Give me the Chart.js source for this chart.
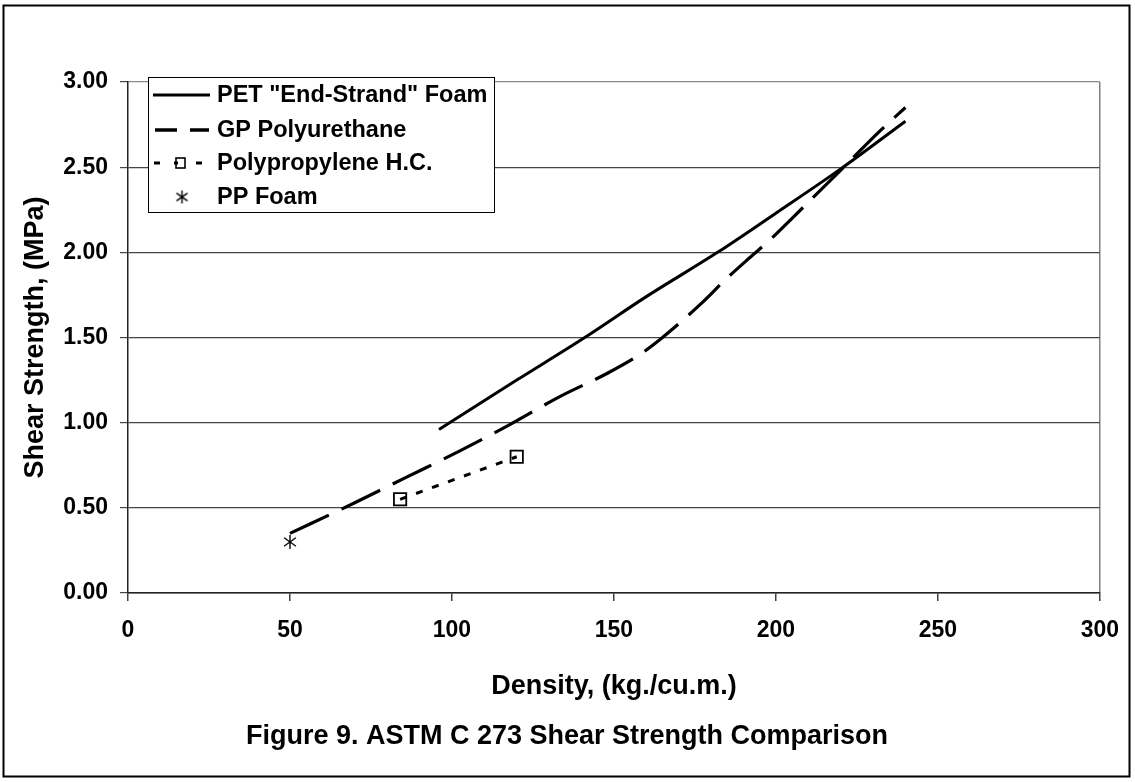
<!DOCTYPE html>
<html lang="en">
<head>
  <meta charset="UTF-8" />
  <title>Shear Strength Comparison</title>
  <script src="https://cdn.jsdelivr.net/npm/chart.js"></script>
  <style>
    html, body { margin: 0; padding: 0; background: #fff; }
    canvas { display: block; }
  </style>
</head>
<body>

  <canvas id="shearChart" width="1135" height="782"></canvas>

  <script>
    // values
    const petDensity   = [96, 120, 141, 160, 182, 200, 220, 240];
    const petStrength  = [0.96, 1.25, 1.50, 1.74, 2.00, 2.23, 2.49, 2.77];
    const gpDensity    = [50, 70, 86, 102, 118, 133, 148, 158, 165, 177, 185, 192, 198, 205, 222, 232, 240];
    const gpStrength   = [0.35, 0.53, 0.68, 0.83, 0.99, 1.15, 1.29, 1.40, 1.50, 1.70, 1.85, 1.97, 2.07, 2.20, 2.52, 2.71, 2.85];
    const hcDensity    = [84, 120];
    const hcStrength   = [0.55, 0.80];
    const foamDensity  = [50];
    const foamStrength = [0.30];
    const xTicks = [0, 50, 100, 150, 200, 250, 300];
    const yTicks = [0, 0.5, 1.0, 1.5, 2.0, 2.5, 3.0];
    const seriesNames = ['PET "End-Strand" Foam', 'GP Polyurethane', 'Polypropylene H.C.', 'PP Foam'];

    const FONT = '"Liberation Sans", Arial, sans-serif';
    Chart.defaults.font.family = FONT;
    Chart.defaults.color = '#000';

    const toPoints = (xs, ys) => xs.map((x, i) => ({ x: x, y: ys[i] }));

    // asterisk marker for PP Foam
    function makeStar(size) {
      const cv = document.createElement('canvas');
      cv.width = size; cv.height = size;
      const g = cv.getContext('2d');
      const m = size / 2, r = size / 2 - 1;
      g.strokeStyle = '#000';
      g.lineWidth = 1.4;
      g.beginPath();
      g.moveTo(m, m - r); g.lineTo(m, m + r);
      g.moveTo(m - r * 0.85, m - r * 0.6); g.lineTo(m + r * 0.85, m + r * 0.6);
      g.moveTo(m - r * 0.85, m + r * 0.6); g.lineTo(m + r * 0.85, m - r * 0.6);
      g.stroke();
      return cv;
    }
    const starMark = makeStar(16);
    const starSmall = makeStar(15);

    // frame, caption and boxed legend
    const decorPlugin = {
      id: 'decor',
      afterDraw(chart) {
        const c = chart.ctx;
        const ds = chart.data.datasets;
        c.save();
        c.strokeStyle = '#000';
        c.lineWidth = 2;
        c.strokeRect(3.5, 5.5, 1126, 771);

        c.fillStyle = '#000';
        c.font = 'bold 27px ' + FONT;
        c.textAlign = 'center';
        c.textBaseline = 'middle';
        c.fillText('Figure 9. ASTM C 273 Shear Strength Comparison', 567, 737);

        // legend box
        c.fillStyle = '#fff';
        c.fillRect(148, 77, 346, 135);
        c.lineWidth = 1;
        c.strokeStyle = '#000';
        c.strokeRect(148.5, 77.5, 346, 135);

        const rows = [95, 130, 163, 197];
        c.lineCap = 'butt';
        // solid
        c.lineWidth = 3;
        c.setLineDash([]);
        c.beginPath(); c.moveTo(153, rows[0]); c.lineTo(210, rows[0]); c.stroke();
        // dashed
        c.lineWidth = 3.5;
        c.beginPath(); c.moveTo(155, rows[1]); c.lineTo(177, rows[1]);
        c.moveTo(190, rows[1]); c.lineTo(209, rows[1]); c.stroke();
        // dotted with square
        c.lineWidth = 3;
        c.beginPath(); c.moveTo(154, rows[2]); c.lineTo(160, rows[2]);
        c.moveTo(174, rows[2]); c.lineTo(178, rows[2]);
        c.moveTo(196, rows[2]); c.lineTo(202, rows[2]); c.stroke();
        c.lineWidth = 1.6;
        c.strokeRect(176, 158, 9, 10);
        // star
        c.drawImage(starSmall, 182 - 7.5, rows[3] - 7.5);

        c.fillStyle = '#000';
        c.textAlign = 'left';
        c.font = 'bold 23.5px ' + FONT;
        ds.forEach((d, i) => c.fillText(d.label, 217, rows[i] + 1));
        c.restore();
      }
    };

    new Chart(document.getElementById('shearChart'), {
      type: 'scatter',
      data: {
        datasets: [
          {
            label: seriesNames[0],
            data: toPoints(petDensity, petStrength),
            showLine: true,
            borderColor: '#000',
            borderWidth: 3,
            pointRadius: 0,
            cubicInterpolationMode: 'monotone'
          },
          {
            label: seriesNames[1],
            data: toPoints(gpDensity, gpStrength),
            showLine: true,
            borderColor: '#000',
            borderWidth: 3.2,
            borderDash: [43, 14],
            pointRadius: 0,
            cubicInterpolationMode: 'monotone'
          },
          {
            label: seriesNames[2],
            data: toPoints(hcDensity, hcStrength),
            showLine: true,
            borderColor: '#000',
            borderWidth: 3,
            borderDash: [7, 10],
            pointStyle: 'rect',
            pointRadius: 8.7,
            pointBorderWidth: 1.8,
            pointBorderColor: '#000',
            pointBackgroundColor: 'transparent'
          },
          {
            label: seriesNames[3],
            data: toPoints(foamDensity, foamStrength),
            showLine: false,
            pointStyle: starMark,
            pointRadius: 8
          }
        ]
      },
      options: {
        responsive: false,
        animation: false,
        devicePixelRatio: 1,
        layout: { padding: { left: 0, top: 82, right: 35, bottom: 0 } },
        plugins: {
          legend: { display: false },
          tooltip: { enabled: false }
        },
        scales: {
          x: {
            type: 'linear',
            min: 0,
            max: 300,
            afterBuildTicks: s => { s.ticks = xTicks.map(v => ({ value: v })); },
            afterFit: s => { s.height = 189; },
            ticks: {
              font: { size: 23, weight: 'bold' },
              color: '#000',
              padding: 16,
              maxRotation: 0
            },
            grid: {
              color: ctx => (ctx.tick && ctx.tick.value === 300 ? '#808080' : 'transparent'),
              tickColor: '#404040',
              tickLength: 8,
              lineWidth: 1.5
            },
            border: { display: true, color: '#222', width: 1.5 },
            title: {
              display: true,
              text: 'Density, (kg./cu.m.)',
              font: { size: 27, weight: 'bold' },
              color: '#000',
              padding: { top: 0, bottom: 79 }
            }
          },
          y: {
            min: 0,
            max: 3,
            afterBuildTicks: s => { s.ticks = yTicks.map(v => ({ value: v })); },
            afterFit: s => { s.width = 128; },
            ticks: {
              font: { size: 23, weight: 'bold' },
              color: '#000',
              padding: 12,
              callback: v => Number(v).toFixed(2)
            },
            grid: {
              color: ctx => (ctx.tick && ctx.tick.value === 3 ? '#8a8a8a' : '#444'),
              tickColor: '#444',
              tickLength: 8,
              lineWidth: 1.2
            },
            border: { display: true, color: '#222', width: 1.5 },
            title: {
              display: true,
              text: 'Shear Strength, (MPa)',
              font: { size: 27, weight: 'bold' },
              color: '#000',
              padding: { top: 19, bottom: 0 }
            }
          }
        }
      },
      plugins: [decorPlugin]
    });
  </script>

</body>
</html>
